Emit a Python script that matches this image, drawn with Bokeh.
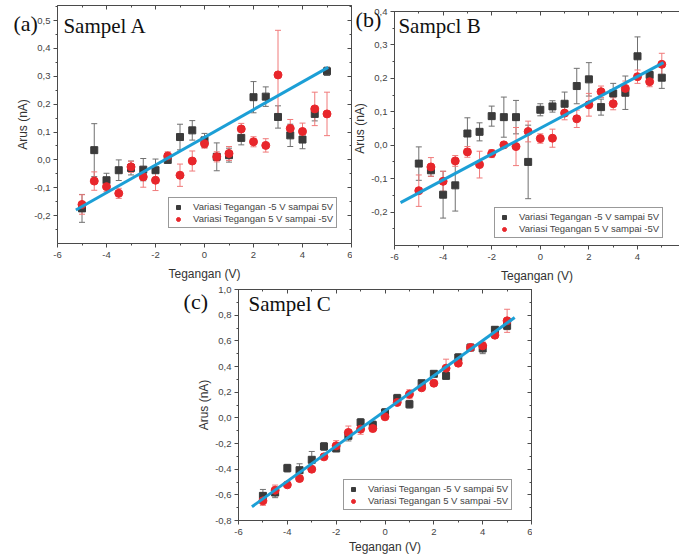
from bokeh.plotting import figure
from bokeh.layouts import column, row
from bokeh.models import (LinearAxis, SingleIntervalTicker, CustomJSTickFormatter,
                          Range1d, Label, Legend, LegendItem, Spacer, ColumnDataSource)
from bokeh.embed import file_html
from bokeh.resources import INLINE

# Applied voltage (V)
voltage = [-5.0, -4.5, -4.0, -3.5, -3.0, -2.5, -2.0, -1.5, -1.0, -0.5, 0.0,
           0.5, 1.0, 1.5, 2.0, 2.5, 3.0, 3.5, 4.0, 4.5, 5.0]

# Sampel A current (nA): sweep -5 V -> 5 V and 5 V -> -5 V
a_up = [-0.174, 0.035, -0.073, -0.037, -0.029, -0.035, -0.037, 0.000, 0.082, 0.106, 0.070,
        0.011, 0.017, 0.079, 0.225, 0.227, 0.154, 0.088, 0.073, 0.165, 0.318]
a_up_err = [0.050, 0.095, 0.025, 0.037, 0.025, 0.040, 0.040, 0.010, 0.046, 0.035, 0.025,
            0.050, 0.025, 0.025, 0.056, 0.035, 0.040, 0.040, 0.033, 0.025, 0.015]
a_down = [-0.160, -0.076, -0.096, -0.120, -0.025, -0.061, -0.073, 0.014, -0.055, -0.004, 0.058,
          0.011, 0.023, 0.111, 0.065, 0.052, 0.305, 0.113, 0.102, 0.183, 0.165]
a_down_err = [0.035, 0.033, 0.018, 0.018, 0.020, 0.037, 0.037, 0.015, 0.040, 0.036, 0.016,
              0.018, 0.025, 0.020, 0.018, 0.024, 0.160, 0.032, 0.030, 0.060, 0.078]

# Sampel B current (nA)
b_up = [-0.055, -0.075, -0.148, -0.120, 0.035, 0.040, 0.087, 0.084, 0.084, -0.050, 0.106,
        0.116, 0.124, 0.177, 0.197, 0.114, 0.155, 0.157, 0.266, 0.210, 0.202]
b_up_err = [0.050, 0.018, 0.070, 0.077, 0.047, 0.027, 0.030, 0.060, 0.050, 0.110, 0.018,
            0.017, 0.035, 0.053, 0.050, 0.024, 0.030, 0.050, 0.058, 0.012, 0.032]
b_down = [-0.136, -0.065, -0.108, -0.047, -0.020, -0.058, -0.025, 0.001, -0.004, 0.041, 0.020,
          0.021, 0.096, 0.079, 0.121, 0.160, 0.124, 0.170, 0.205, 0.190, 0.242]
b_down_err = [0.047, 0.028, 0.030, 0.016, 0.016, 0.040, 0.012, 0.008, 0.057, 0.031, 0.014,
              0.027, 0.020, 0.026, 0.034, 0.017, 0.018, 0.022, 0.020, 0.015, 0.033]

# Sampel C current (nA)
c_up = [-0.608, -0.582, -0.392, -0.408, -0.327, -0.223, -0.239, -0.140, -0.036, -0.055, 0.042,
        0.153, 0.106, 0.270, 0.343, 0.327, 0.470, 0.548, 0.540, 0.686, 0.717]
c_up_err = [0.050, 0.040, 0.030, 0.050, 0.065, 0.030, 0.020, 0.040, 0.030, 0.030, 0.030,
            0.030, 0.030, 0.020, 0.015, 0.025, 0.030, 0.015, 0.040, 0.025, 0.030]
c_down = [-0.647, -0.564, -0.522, -0.473, -0.400, -0.304, -0.218, -0.114, -0.088, -0.083, 0.008,
          0.120, 0.184, 0.234, 0.270, 0.387, 0.426, 0.548, 0.561, 0.644, 0.756]
c_down_err = [0.035, 0.040, 0.010, 0.020, 0.020, 0.020, 0.040, 0.050, 0.040, 0.025, 0.020,
              0.020, 0.035, 0.020, 0.020, 0.070, 0.025, 0.010, 0.030, 0.025, 0.090]

# Linear fits: slope (nA/V), intercept (nA), voltage extent
fit_a = (0.0497, 0.081, [-5.25, 5.05])
fit_b = (0.0387, 0.051, [-5.75, 5.07])
fit_c = (0.137, 0.054, [-5.45, 5.31])

legend_up = "Variasi Tegangan -5 V sampai 5V"
legend_down = "Variasi Tegangan 5 V sampai -5V"

SANS = "Liberation Sans"
SERIF = "Liberation Serif"
AX = "#4a4a4a"
DARK = "#3b3b3b"
RED = "#e8262b"
RED_ERR = "#f07a7a"
GREY_ERR = "#707070"
FIT = "#1c9fd6"
X_LO, X_HI = -6.0, 6.0

comma_fmt = CustomJSTickFormatter(code="return tick.toFixed(1).replace('.', ',');")
int_fmt = CustomJSTickFormatter(code="return tick.toFixed(0);")
blank_fmt = CustomJSTickFormatter(code="return '';")


def style_axis(ax, inward=False, vertical=False, label_standoff=6):
    ax.axis_line_color = AX
    ax.major_tick_line_color = AX
    ax.minor_tick_line_color = AX
    if inward:
        ax.major_tick_in = 4
        ax.major_tick_out = 0
        ax.minor_tick_in = 2
        ax.minor_tick_out = 0
        ax.major_label_text_font_size = "0px"
        ax.major_label_standoff = 0
    else:
        ax.major_tick_in = 0
        ax.major_tick_out = 4
        ax.minor_tick_in = 0
        ax.minor_tick_out = 2
        ax.major_label_text_font = SANS
        ax.major_label_text_font_size = "9.5px"
        ax.major_label_text_color = "#444444"
        ax.major_label_standoff = 3 if vertical else 4
        ax.axis_label_text_font = SANS
        ax.axis_label_text_font_size = "12px"
        ax.axis_label_text_font_style = "normal"
        ax.axis_label_text_color = "#333333"
        ax.axis_label_standoff = 1 if vertical else label_standoff


def panel(up, up_err, down, down_err, fit, width, height, box_left, px_per_volt,
          y0, y1, y0_px, y1_px, y_step, legend_loc, tag, tag_xy, name, name_xy,
          right_axis=True, x_label_standoff=6):
    # the frame fills the whole canvas; the data box [-6, 6] x [y0, y1] sits at
    # the given pixel offsets and every axis is pinned to the box edges
    x_start = X_LO - box_left / px_per_volt
    x_end = x_start + width / px_per_volt
    px_per_na = (y0_px - y1_px) / (y1 - y0)
    y_end = y1 + y1_px / px_per_na
    y_start = y_end - height / px_per_na

    p = figure(width=width, height=height, x_range=Range1d(x_start, x_end),
               y_range=Range1d(y_start, y_end), x_axis_type=None, y_axis_type=None,
               output_backend="svg", toolbar_location=None, min_border=0)
    p.outline_line_color = None
    p.background_fill_color = "white"
    p.border_fill_color = "white"

    xt = SingleIntervalTicker(interval=2, num_minor_ticks=2)
    yt = SingleIntervalTicker(interval=y_step, num_minor_ticks=2)

    xb = LinearAxis(ticker=xt, formatter=int_fmt, axis_label="Tegangan (V)",
                    bounds=(X_LO, X_HI), fixed_location=y0)
    style_axis(xb, label_standoff=x_label_standoff)
    p.add_layout(xb, "below")
    yl = LinearAxis(ticker=yt, formatter=comma_fmt, axis_label="Arus (nA)",
                    bounds=(y0, y1), fixed_location=X_LO)
    style_axis(yl, vertical=True)
    p.add_layout(yl, "left")
    xa = LinearAxis(ticker=xt, formatter=blank_fmt, bounds=(X_LO, X_HI),
                    fixed_location=y1)
    style_axis(xa, inward=True)
    p.add_layout(xa, "above")
    if right_axis:
        yr = LinearAxis(ticker=yt, formatter=blank_fmt, bounds=(y0, y1),
                        fixed_location=X_HI)
        style_axis(yr, inward=True)
        p.add_layout(yr, "right")

    src = ColumnDataSource(dict(
        v=voltage, up=up, down=down,
        up_lo=[y - e for y, e in zip(up, up_err)],
        up_hi=[y + e for y, e in zip(up, up_err)],
        dn_lo=[y - e for y, e in zip(down, down_err)],
        dn_hi=[y + e for y, e in zip(down, down_err)],
    ))

    # error bars with caps
    p.segment("v", "up_lo", "v", "up_hi", source=src, line_color=GREY_ERR, line_width=1)
    p.scatter("v", "up_lo", source=src, marker="dash", size=6, line_color=GREY_ERR)
    p.scatter("v", "up_hi", source=src, marker="dash", size=6, line_color=GREY_ERR)
    p.segment("v", "dn_lo", "v", "dn_hi", source=src, line_color=RED_ERR, line_width=1)
    p.scatter("v", "dn_lo", source=src, marker="dash", size=6, line_color=RED_ERR)
    p.scatter("v", "dn_hi", source=src, marker="dash", size=6, line_color=RED_ERR)

    sq = p.scatter("v", "up", source=src, marker="square", size=7,
                   fill_color=DARK, line_color=DARK)
    ci = p.scatter("v", "down", source=src, marker="circle", size=8,
                   fill_color=RED, line_color=RED)

    slope, icpt, xs = fit
    p.line(xs, [slope * x + icpt for x in xs], line_color=FIT, line_width=3)

    leg = Legend(items=[LegendItem(label=legend_up, renderers=[sq]),
                        LegendItem(label=legend_down, renderers=[ci])],
                 location=legend_loc)
    leg.border_line_color = "#333333"
    leg.border_line_width = 1
    leg.background_fill_color = "white"
    leg.background_fill_alpha = 1
    leg.label_text_font = SANS
    leg.label_text_font_size = "9.5px"
    leg.label_text_color = "#444444"
    leg.label_height = 10
    leg.glyph_height = 10
    leg.glyph_width = 12
    leg.label_standoff = 9
    leg.spacing = 1
    leg.padding = 3
    leg.margin = 0
    p.add_layout(leg, "center")

    p.add_layout(Label(x=tag_xy[0], y=tag_xy[1], text=tag, text_font=SERIF,
                       text_font_size="22px", text_color="#111111"))
    p.add_layout(Label(x=name_xy[0], y=name_xy[1], text=name, text_font=SERIF,
                       text_font_size="21px", text_color="#111111"))
    return p


pa = panel(a_up, a_up_err, a_down, a_down_err, fit_a, 352, 284, 57, 24.5,
           -0.3, 0.554, 243, 5, 0.1, (168, 56),
           "(a)", (-7.8, 0.446), "Sampel A", (-5.76, 0.436))
pb = panel(b_up, b_up_err, b_down, b_down_err, fit_b, 327, 284, 42, 24.3,
           -0.3, 0.4, 245, 11, 0.1, (142, 46),
           "(b)", (-7.6, 0.34), "Sampcl B", (-5.84, 0.321), right_axis=False)
pc = panel(c_up, c_up_err, c_down, c_down_err, fit_c, 354, 271, 60, 24.42,
           -0.8, 1.0, 236, 5, 0.2, (165, 45),
           "(c)", (-8.25, 0.81), "Sampel C", (-5.59, 0.79), x_label_standoff=2)

layout = column(row(pa, pb), row(Spacer(width=178, height=271), pc))

open("out.html", "w").write(file_html(layout, INLINE))
